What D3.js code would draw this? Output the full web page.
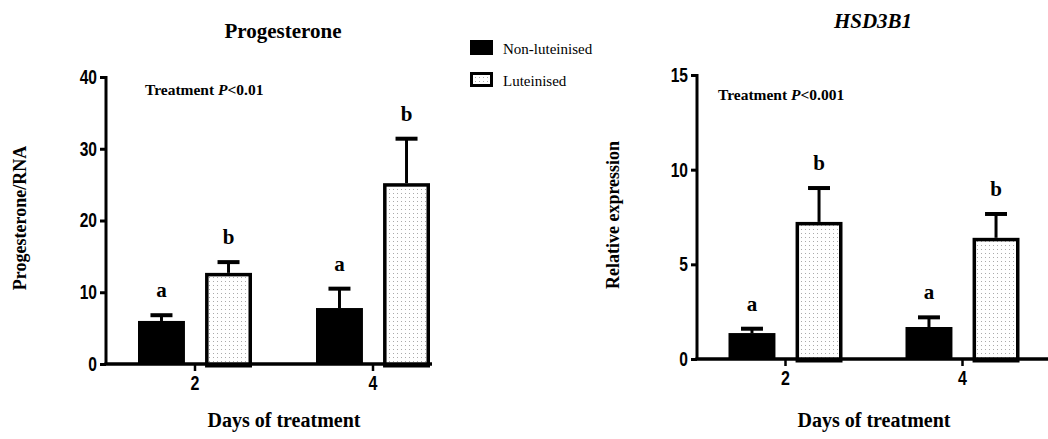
<!DOCTYPE html>
<html>
<head>
<meta charset="utf-8">
<script src="https://cdn.jsdelivr.net/npm/d3@7/dist/d3.min.js"></script>
<style>
  body { margin: 0; background: #fff; }
  svg { display: block; }
</style>
</head>
<body>
<div class="main"></div>
<script>
const days = ["2", "4"];
const groups = ["Non-luteinised", "Luteinised"];

// progesterone panel
const progMean = [[6.0, 12.7], [7.8, 25.2]];
const progErr = [[6.8, 14.2], [10.5, 31.4]];
const progLetters = [["a", "b"], ["a", "b"]];
const progTicks = [0, 10, 20, 30, 40];

// HSD3B1 panel
const hsdMean = [[1.37, 7.24], [1.69, 6.4]];
const hsdErr = [[1.6, 9.03], [2.2, 7.66]];
const hsdLetters = [["a", "b"], ["a", "b"]];
const hsdTicks = [0, 5, 10, 15];

const w = 1048, h = 439;
const svg = d3.select(".main").append("svg").attr("width", w).attr("height", h);

const defs = svg.append("defs");
const pat = defs.append("pattern")
  .attr("id", "dots").attr("patternUnits", "userSpaceOnUse")
  .attr("width", 4).attr("height", 4);
pat.append("rect").attr("width", 4).attr("height", 4).attr("fill", "#fff");
pat.append("rect").attr("x", 1).attr("y", 1).attr("width", 1).attr("height", 1).attr("fill", "#aaa");

const tickFont = "'Liberation Sans', 'DejaVu Sans', sans-serif";
const serif = "'Liberation Serif', 'DejaVu Serif', serif";

function panel(o) {
  const g = svg.append("g");
  const x = d3.scaleBand().domain(days).range([o.left, o.left + 2 * o.step]);
  const inner = d3.scaleBand().domain(groups).range([-57, 57]).paddingInner(0.3);
  const y = d3.scaleLinear().domain([0, o.max]).range([o.bottom, o.top]);

  const rows = [];
  days.forEach((d, i) => groups.forEach((s, j) => rows.push({
    day: d, grp: s, v: o.mean[i][j], e: o.err[i][j], lab: o.letters[i][j]
  })));

  const cx = (d) => x(d.day) + x.bandwidth() / 2 + inner(d.grp) + inner.bandwidth() / 2;

  // error stems + caps
  g.selectAll(".stem").data(rows).enter().append("line")
    .attr("x1", cx).attr("x2", cx)
    .attr("y1", (d) => y(d.v)).attr("y2", (d) => y(d.e))
    .attr("stroke", "#000").attr("stroke-width", 3);
  g.selectAll(".cap").data(rows).enter().append("line")
    .attr("x1", (d) => cx(d) - 11).attr("x2", (d) => cx(d) + 11)
    .attr("y1", (d) => y(d.e)).attr("y2", (d) => y(d.e))
    .attr("stroke", "#000").attr("stroke-width", 4);

  // bars
  g.selectAll(".bar").data(rows).enter().append("rect")
    .attr("x", (d) => cx(d) - inner.bandwidth() / 2 + (d.grp == "Luteinised" ? 1.75 : 0))
    .attr("width", (d) => inner.bandwidth() - (d.grp == "Luteinised" ? 3.5 : 0))
    .attr("y", (d) => y(d.v) + (d.grp == "Luteinised" ? 1.75 : 0))
    .attr("height", (d) => y(0) - y(d.v))
    .attr("fill", (d) => d.grp == "Luteinised" ? "url(#dots)" : "#000")
    .attr("stroke", "#000")
    .attr("stroke-width", (d) => d.grp == "Luteinised" ? 3.5 : 0);

  // letters
  g.selectAll(".lab").data(rows).enter().append("text")
    .attr("x", cx).attr("y", (d) => y(d.e) - 18)
    .attr("text-anchor", "middle")
    .style("font-family", serif).style("font-weight", "bold").style("font-size", "21px")
    .text((d) => d.lab);

  // y axis
  const yAxis = d3.axisLeft(y).tickValues(o.ticks).tickSize(6).tickPadding(3);
  const ya = g.append("g").attr("transform", "translate(" + o.left + ",0)").call(yAxis);
  ya.select(".domain").attr("stroke-width", 3).attr("d", "M0," + (o.top - 1) + "V" + o.bottom);
  ya.selectAll(".tick line").attr("stroke-width", 3);
  ya.selectAll("text")
    .attr("x", 0)
    .attr("transform", "translate(-9,0) scale(0.78,1)")
    .style("font-family", tickFont).style("font-weight", "bold").style("font-size", "20px");

  // x axis
  const xAxis = d3.axisBottom(x).tickSize(7).tickPadding(5);
  const xa = g.append("g").attr("transform", "translate(0," + o.bottom + ")").call(xAxis);
  xa.select(".domain").attr("stroke-width", 3.5).attr("d", "M" + (o.left - 1.5) + ",0H" + o.axisEnd);
  xa.selectAll(".tick line").attr("stroke-width", 2.5);
  xa.selectAll("text")
    .attr("transform", "scale(0.8,1)")
    .style("font-family", tickFont).style("font-weight", "bold").style("font-size", "20px");

  // titles
  g.append("text").attr("x", o.titleX).attr("y", o.titleY).attr("text-anchor", "middle")
    .style("font-family", serif).style("font-weight", "bold").style("font-size", "21px")
    .style("font-style", o.italic ? "italic" : "normal")
    .text(o.title);

  const t = g.append("text").attr("x", o.noteX).attr("y", o.noteY)
    .style("font-family", serif).style("font-weight", "bold").style("font-size", "15.5px");
  t.append("tspan").text("Treatment ");
  t.append("tspan").style("font-style", "italic").text("P");
  t.append("tspan").text(o.pText);

  g.append("text").attr("transform", "translate(" + o.ylabX + "," + o.ylabY + ") rotate(-90)")
    .attr("text-anchor", "middle")
    .style("font-family", serif).style("font-weight", "bold").style("font-size", "18px")
    .text(o.ylab);

  g.append("text").attr("x", x("2") + o.step).attr("y", 427).attr("text-anchor", "middle")
    .style("font-family", serif).style("font-weight", "bold").style("font-size", "20px")
    .text("Days of treatment");
}

panel({
  left: 106, step: 178, top: 77, bottom: 364, max: 40, axisEnd: 432,
  mean: progMean, err: progErr, letters: progLetters, ticks: progTicks,
  title: "Progesterone", titleX: 283, titleY: 38, italic: false,
  noteX: 145, noteY: 95, pText: "<0.01",
  ylab: "Progesterone/RNA", ylabX: 26, ylabY: 218
});

panel({
  left: 697, step: 177, top: 75, bottom: 359, max: 15, axisEnd: 1048,
  mean: hsdMean, err: hsdErr, letters: hsdLetters, ticks: hsdTicks,
  title: "HSD3B1", titleX: 873, titleY: 28, italic: true,
  noteX: 718, noteY: 100, pText: "<0.001",
  ylab: "Relative expression", ylabX: 619, ylabY: 215
});

// legend
const leg = svg.append("g").attr("transform", "translate(470,40)");
groups.forEach((s, i) => {
  leg.append("rect")
    .attr("x", s == "Luteinised" ? 1.5 : 0).attr("y", i * 32 + (s == "Luteinised" ? 1.5 : 0))
    .attr("width", s == "Luteinised" ? 20 : 23).attr("height", s == "Luteinised" ? 12 : 15)
    .attr("fill", s == "Luteinised" ? "url(#dots)" : "#000")
    .attr("stroke", "#000").attr("stroke-width", s == "Luteinised" ? 3 : 0);
  leg.append("text").attr("x", 33).attr("y", i * 32 + 14)
    .style("font-family", serif).style("font-size", "15px")
    .text(s);
});
</script>
</body>
</html>
